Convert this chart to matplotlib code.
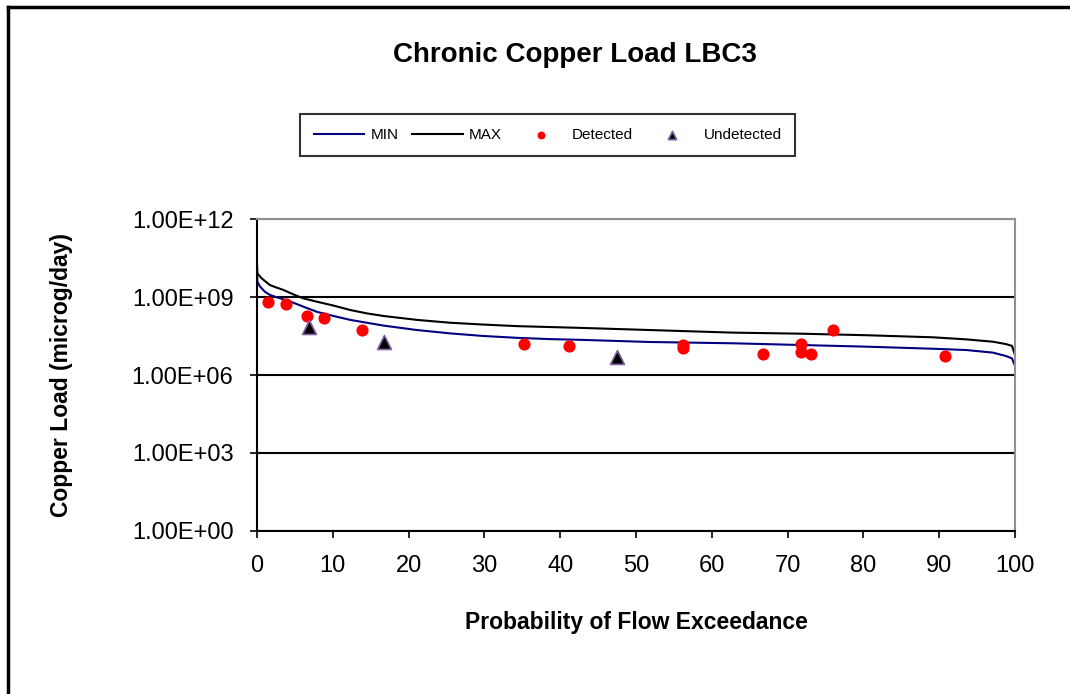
import numpy as np
import matplotlib
matplotlib.use("Agg")
import matplotlib.pyplot as plt
from matplotlib.lines import Line2D

plt.rcParams["font.family"] = ["Liberation Sans", "DejaVu Sans"]

# Load duration curves (probability of exceedance, %) and log10 load
min_p = [0, 0.05, 0.4, 1.05, 1.7, 2.6, 3.5, 4.8, 6.1, 7.9, 10.1, 12.3, 14.5, 16.7, 21.1, 25.5,
         29.9, 34.3, 38.7, 43.0, 51.8, 62.8, 80.4, 89.2, 93.6, 97.1, 98.8, 99.6, 100]
min_log = [9.97, 9.59, 9.40, 9.20, 9.08, 8.99, 8.91, 8.78, 8.63, 8.43, 8.27, 8.12, 8.01, 7.90, 7.73, 7.60,
           7.50, 7.43, 7.38, 7.35, 7.27, 7.22, 7.09, 7.01, 6.96, 6.86, 6.73, 6.64, 6.35]
max_p = [0, 0.05, 0.6, 1.7, 2.6, 3.5, 4.8, 6.1, 7.9, 10.1, 12.3, 14.5, 16.7, 21.1, 25.5, 29.9,
         34.3, 43.0, 51.8, 62.8, 71.6, 80.4, 89.2, 93.6, 97.1, 98.8, 99.6, 100]
max_log = [10.30, 9.91, 9.72, 9.46, 9.36, 9.27, 9.10, 8.95, 8.82, 8.67, 8.50, 8.37, 8.27, 8.12, 8.01, 7.94,
           7.88, 7.81, 7.73, 7.63, 7.59, 7.53, 7.45, 7.37, 7.28, 7.19, 7.12, 6.77]

# Samples
det_p = [1.5, 3.8, 6.6, 8.9, 13.9, 35.2, 41.2, 56.2, 56.2, 66.8, 71.8, 71.8, 73.1, 76.0, 90.8]
det_log = [8.80, 8.73, 8.28, 8.19, 7.73, 7.19, 7.12, 7.17, 7.03, 6.82, 7.20, 6.88, 6.82, 7.73, 6.74]
und_p = [6.8, 16.8, 47.5]
und_log = [7.86, 7.26, 6.68]

fig = plt.figure(figsize=(10.7, 6.94), dpi=100)
ax = fig.add_axes([0.2402, 0.2349, 0.7084, 0.4495])

ax.plot(min_p, 10 ** np.array(min_log), color="#000080", lw=1.5, label="MIN")
ax.plot(max_p, 10 ** np.array(max_log), color="black", lw=1.5, label="MAX")
ax.scatter(det_p, 10 ** np.array(det_log), s=60, color="#ff0000", zorder=3, label="Detected")
ax.scatter(und_p, 10 ** np.array(und_log), s=100, marker="^", color="black",
           edgecolors="#8060a0", linewidths=1.2, zorder=3, label="Undetected")

ax.set_yscale("log")
ax.set_ylim(1, 1e12)
ax.set_xlim(0, 100)
ax.set_yticks([1e0, 1e3, 1e6, 1e9, 1e12])
ax.set_yticklabels(["1.00E+00", "1.00E+03", "1.00E+06", "1.00E+09", "1.00E+12"])
ax.yaxis.set_minor_locator(matplotlib.ticker.NullLocator())
ax.set_xticks(range(0, 101, 10))
ax.tick_params(labelsize=17, length=5, width=1.2, direction="out", pad=12)
ax.grid(axis="y", color="black", lw=1.5)

for s in ["left", "bottom"]:
    ax.spines[s].set_color("black")
    ax.spines[s].set_linewidth(1.5)
for s in ["top", "right"]:
    ax.spines[s].set_color("#909090")
    ax.spines[s].set_linewidth(1.5)

ax.set_xlabel("Probability of Flow Exceedance", fontsize=16.5, fontweight="bold")
ax.set_ylabel("Copper Load (microg/day)", fontsize=16.5, fontweight="bold")
ax.xaxis.set_label_coords(0.5, -0.255)
ax.yaxis.set_label_coords(-0.243, 0.5)
fig.text(0.537, 0.921, "Chronic Copper Load LBC3", fontsize=20, fontweight="bold", ha="center", va="center")

leg = fig.legend(loc="center", bbox_to_anchor=(0.512, 0.8055), ncol=4, fontsize=11,
                 frameon=True, fancybox=False, edgecolor="black", handlelength=3.3,
                 handletextpad=0.4, columnspacing=0.9, markerscale=0.6, borderpad=0.9)
leg.get_frame().set_linewidth(1.5)

# outer chart border
fig.add_artist(Line2D([0.0075, 0.0075], [0, 0.99], color="black", lw=2.5, transform=fig.transFigure))
fig.add_artist(Line2D([0.0075, 1.0], [0.99, 0.99], color="black", lw=2.5, transform=fig.transFigure))

fig.savefig("out.png", dpi=100)
